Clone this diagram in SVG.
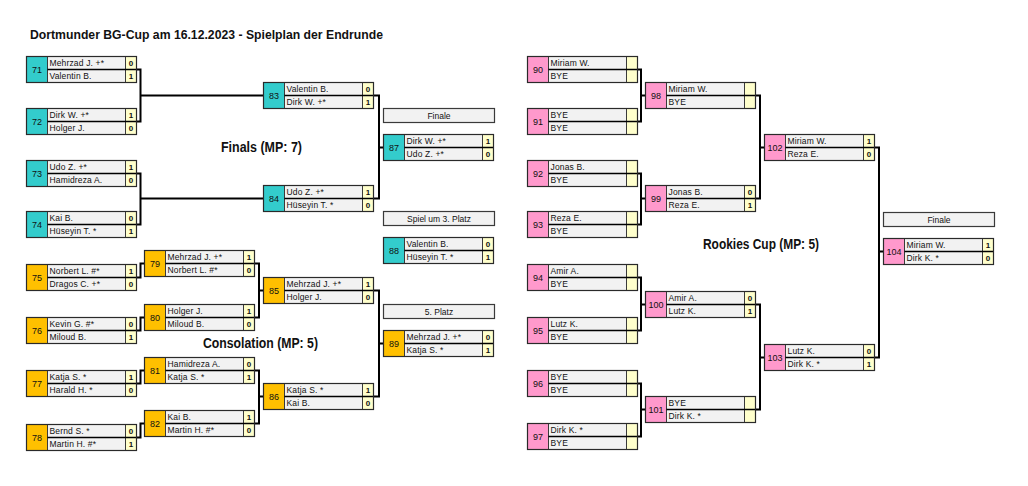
<svg xmlns="http://www.w3.org/2000/svg" xmlns:xlink="http://www.w3.org/1999/xlink" width="1028" height="486" viewBox="0 0 1028 486">
<style>
text{font-family:"Liberation Sans",Arial,sans-serif;fill:#111}
.no{font-size:9px;text-anchor:middle}
.nm{font-size:8.5px;letter-spacing:0.15px}
.sc{font-size:8px;font-weight:bold;text-anchor:middle}
.lb{font-size:8.5px;text-anchor:middle}
.ttl{font-size:13px;font-weight:bold}
.sec{font-size:14px;font-weight:bold}
.conn path{fill:none;stroke:#000;stroke-width:2}
.teal{fill:#33cccc}
.gold{fill:#ffc000}
.pink{fill:#ff99cc}
</style>
<defs>
<g id="frame">
<rect width="21" height="26" stroke="#3a3a3a" stroke-width="1"/>
<rect x="21" width="78" height="26" fill="#f2f2f2" stroke="#3a3a3a" stroke-width="1"/>
<rect x="99" width="11" height="26" fill="#ffffcc" stroke="#3a3a3a" stroke-width="1"/>
<line x1="21" y1="13" x2="110" y2="13" stroke="#000" stroke-width="1.5"/>
<rect width="110" height="26" fill="none" stroke="#2a2a2a" stroke-width="1.2"/>
</g>
<g id="label">
<rect width="111" height="14" fill="#f2f2f2" stroke="#3a3a3a" stroke-width="1.2"/>
</g>
</defs>
<rect width="1028" height="486" fill="#fff"/>
<text class="ttl" x="30" y="39" textLength="353" lengthAdjust="spacingAndGlyphs">Dortmunder BG-Cup am 16.12.2023 - Spielplan der Endrunde</text>
<text class="sec" x="221" y="151.5" textLength="81" lengthAdjust="spacingAndGlyphs">Finals (MP: 7)</text>
<text class="sec" x="203" y="348" textLength="115" lengthAdjust="spacingAndGlyphs">Consolation (MP: 5)</text>
<text class="sec" x="703" y="248.5" textLength="116" lengthAdjust="spacingAndGlyphs">Rookies Cup (MP: 5)</text>

<g class="conn">
<path d="M136.5,69.5 H140.5 V121.5 H136.5 M140.5,95.5 H263.5"/>
<path d="M136.5,173.5 H140.5 V224.5 H136.5 M140.5,198.5 H263.5"/>
<path d="M373.5,95.5 H379 V198.5 H373.5 M379,147.5 H383.5"/>
<path d="M136.5,277.5 H140.5 V263.5 H144.5"/>
<path d="M136.5,330.5 H140.5 V317.5 H144.5"/>
<path d="M136.5,383.5 H140.5 V370.5 H144.5"/>
<path d="M136.5,437.5 H140.5 V423.5 H144.5"/>
<path d="M254.5,263.5 H259 V317.5 H254.5 M259,290.5 H263.5"/>
<path d="M254.5,370.5 H259 V423.5 H254.5 M259,396.5 H263.5"/>
<path d="M373.5,290.5 H379 V396.5 H373.5 M379,343.5 H383.5"/>
<path d="M637.5,69.5 H641 V121.5 H637.5 M641,95.5 H645.5"/>
<path d="M637.5,173.5 H641 V224.5 H637.5 M641,198.5 H645.5"/>
<path d="M637.5,277.5 H641 V330.5 H637.5 M641,304.5 H645.5"/>
<path d="M637.5,383.5 H641 V436.5 H637.5 M641,409.5 H645.5"/>
<path d="M755.5,95.5 H760 V198.5 H755.5 M760,147.5 H764.5"/>
<path d="M755.5,304.5 H760 V409.5 H755.5 M760,357.5 H764.5"/>
<path d="M874.5,147.5 H879 V357.5 H874.5 M879,251.5 H883.5"/>
</g>

<g id="lbl-finale1" transform="translate(383.5,108.5)"><use xlink:href="#label"/><text class="lb" x="55.5" y="10">Finale</text></g>
<g id="lbl-platz3" transform="translate(383.5,211.5)"><use xlink:href="#label"/><text class="lb" x="55.5" y="10">Spiel um 3. Platz</text></g>
<g id="lbl-platz5" transform="translate(383.5,304.5)"><use xlink:href="#label"/><text class="lb" x="55.5" y="10">5. Platz</text></g>
<g id="lbl-finale2" transform="translate(883.5,212.5)"><use xlink:href="#label"/><text class="lb" x="55.5" y="10">Finale</text></g>

<g id="m71" transform="translate(26.5,56.5)"><use xlink:href="#frame" class="teal"/><text class="no" x="10.5" y="16.5">71</text><text class="nm" x="23" y="9.5">Mehrzad J. +*</text><text class="nm" x="23" y="22.5">Valentin B.</text><text class="sc" x="104.5" y="9.5">0</text><text class="sc" x="104.5" y="22.5">1</text></g>
<g id="m72" transform="translate(26.5,108.5)"><use xlink:href="#frame" class="teal"/><text class="no" x="10.5" y="16.5">72</text><text class="nm" x="23" y="9.5">Dirk W. +*</text><text class="nm" x="23" y="22.5">Holger J.</text><text class="sc" x="104.5" y="9.5">1</text><text class="sc" x="104.5" y="22.5">0</text></g>
<g id="m73" transform="translate(26.5,160.5)"><use xlink:href="#frame" class="teal"/><text class="no" x="10.5" y="16.5">73</text><text class="nm" x="23" y="9.5">Udo Z. +*</text><text class="nm" x="23" y="22.5">Hamidreza A.</text><text class="sc" x="104.5" y="9.5">1</text><text class="sc" x="104.5" y="22.5">0</text></g>
<g id="m74" transform="translate(26.5,211.5)"><use xlink:href="#frame" class="teal"/><text class="no" x="10.5" y="16.5">74</text><text class="nm" x="23" y="9.5">Kai B.</text><text class="nm" x="23" y="22.5">Hüseyin T. *</text><text class="sc" x="104.5" y="9.5">0</text><text class="sc" x="104.5" y="22.5">1</text></g>
<g id="m83" transform="translate(263.5,82.5)"><use xlink:href="#frame" class="teal"/><text class="no" x="10.5" y="16.5">83</text><text class="nm" x="23" y="9.5">Valentin B.</text><text class="nm" x="23" y="22.5">Dirk W. +*</text><text class="sc" x="104.5" y="9.5">0</text><text class="sc" x="104.5" y="22.5">1</text></g>
<g id="m84" transform="translate(263.5,185.5)"><use xlink:href="#frame" class="teal"/><text class="no" x="10.5" y="16.5">84</text><text class="nm" x="23" y="9.5">Udo Z. +*</text><text class="nm" x="23" y="22.5">Hüseyin T. *</text><text class="sc" x="104.5" y="9.5">1</text><text class="sc" x="104.5" y="22.5">0</text></g>
<g id="m87" transform="translate(383.5,134.5)"><use xlink:href="#frame" class="teal"/><text class="no" x="10.5" y="16.5">87</text><text class="nm" x="23" y="9.5">Dirk W. +*</text><text class="nm" x="23" y="22.5">Udo Z. +*</text><text class="sc" x="104.5" y="9.5">1</text><text class="sc" x="104.5" y="22.5">0</text></g>
<g id="m88" transform="translate(383.5,237.5)"><use xlink:href="#frame" class="teal"/><text class="no" x="10.5" y="16.5">88</text><text class="nm" x="23" y="9.5">Valentin B.</text><text class="nm" x="23" y="22.5">Hüseyin T. *</text><text class="sc" x="104.5" y="9.5">0</text><text class="sc" x="104.5" y="22.5">1</text></g>

<g id="m75" transform="translate(26.5,264.5)"><use xlink:href="#frame" class="gold"/><text class="no" x="10.5" y="16.5">75</text><text class="nm" x="23" y="9.5">Norbert L. #*</text><text class="nm" x="23" y="22.5">Dragos C. +*</text><text class="sc" x="104.5" y="9.5">1</text><text class="sc" x="104.5" y="22.5">0</text></g>
<g id="m76" transform="translate(26.5,317.5)"><use xlink:href="#frame" class="gold"/><text class="no" x="10.5" y="16.5">76</text><text class="nm" x="23" y="9.5">Kevin G. #*</text><text class="nm" x="23" y="22.5">Miloud B.</text><text class="sc" x="104.5" y="9.5">0</text><text class="sc" x="104.5" y="22.5">1</text></g>
<g id="m77" transform="translate(26.5,370.5)"><use xlink:href="#frame" class="gold"/><text class="no" x="10.5" y="16.5">77</text><text class="nm" x="23" y="9.5">Katja S. *</text><text class="nm" x="23" y="22.5">Harald H. *</text><text class="sc" x="104.5" y="9.5">1</text><text class="sc" x="104.5" y="22.5">0</text></g>
<g id="m78" transform="translate(26.5,424.5)"><use xlink:href="#frame" class="gold"/><text class="no" x="10.5" y="16.5">78</text><text class="nm" x="23" y="9.5">Bernd S. *</text><text class="nm" x="23" y="22.5">Martin H. #*</text><text class="sc" x="104.5" y="9.5">0</text><text class="sc" x="104.5" y="22.5">1</text></g>
<g id="m79" transform="translate(144.5,250.5)"><use xlink:href="#frame" class="gold"/><text class="no" x="10.5" y="16.5">79</text><text class="nm" x="23" y="9.5">Mehrzad J. +*</text><text class="nm" x="23" y="22.5">Norbert L. #*</text><text class="sc" x="104.5" y="9.5">1</text><text class="sc" x="104.5" y="22.5">0</text></g>
<g id="m80" transform="translate(144.5,304.5)"><use xlink:href="#frame" class="gold"/><text class="no" x="10.5" y="16.5">80</text><text class="nm" x="23" y="9.5">Holger J.</text><text class="nm" x="23" y="22.5">Miloud B.</text><text class="sc" x="104.5" y="9.5">1</text><text class="sc" x="104.5" y="22.5">0</text></g>
<g id="m81" transform="translate(144.5,357.5)"><use xlink:href="#frame" class="gold"/><text class="no" x="10.5" y="16.5">81</text><text class="nm" x="23" y="9.5">Hamidreza A.</text><text class="nm" x="23" y="22.5">Katja S. *</text><text class="sc" x="104.5" y="9.5">0</text><text class="sc" x="104.5" y="22.5">1</text></g>
<g id="m82" transform="translate(144.5,410.5)"><use xlink:href="#frame" class="gold"/><text class="no" x="10.5" y="16.5">82</text><text class="nm" x="23" y="9.5">Kai B.</text><text class="nm" x="23" y="22.5">Martin H. #*</text><text class="sc" x="104.5" y="9.5">1</text><text class="sc" x="104.5" y="22.5">0</text></g>
<g id="m85" transform="translate(263.5,277.5)"><use xlink:href="#frame" class="gold"/><text class="no" x="10.5" y="16.5">85</text><text class="nm" x="23" y="9.5">Mehrzad J. +*</text><text class="nm" x="23" y="22.5">Holger J.</text><text class="sc" x="104.5" y="9.5">1</text><text class="sc" x="104.5" y="22.5">0</text></g>
<g id="m86" transform="translate(263.5,383.5)"><use xlink:href="#frame" class="gold"/><text class="no" x="10.5" y="16.5">86</text><text class="nm" x="23" y="9.5">Katja S. *</text><text class="nm" x="23" y="22.5">Kai B.</text><text class="sc" x="104.5" y="9.5">1</text><text class="sc" x="104.5" y="22.5">0</text></g>
<g id="m89" transform="translate(383.5,330.5)"><use xlink:href="#frame" class="gold"/><text class="no" x="10.5" y="16.5">89</text><text class="nm" x="23" y="9.5">Mehrzad J. +*</text><text class="nm" x="23" y="22.5">Katja S. *</text><text class="sc" x="104.5" y="9.5">0</text><text class="sc" x="104.5" y="22.5">1</text></g>

<g id="m90" transform="translate(527.5,56.5)"><use xlink:href="#frame" class="pink"/><text class="no" x="10.5" y="16.5">90</text><text class="nm" x="23" y="9.5">Miriam W.</text><text class="nm" x="23" y="22.5">BYE</text></g>
<g id="m91" transform="translate(527.5,108.5)"><use xlink:href="#frame" class="pink"/><text class="no" x="10.5" y="16.5">91</text><text class="nm" x="23" y="9.5">BYE</text><text class="nm" x="23" y="22.5">BYE</text></g>
<g id="m92" transform="translate(527.5,160.5)"><use xlink:href="#frame" class="pink"/><text class="no" x="10.5" y="16.5">92</text><text class="nm" x="23" y="9.5">Jonas B.</text><text class="nm" x="23" y="22.5">BYE</text></g>
<g id="m93" transform="translate(527.5,211.5)"><use xlink:href="#frame" class="pink"/><text class="no" x="10.5" y="16.5">93</text><text class="nm" x="23" y="9.5">Reza E.</text><text class="nm" x="23" y="22.5">BYE</text></g>
<g id="m94" transform="translate(527.5,264.5)"><use xlink:href="#frame" class="pink"/><text class="no" x="10.5" y="16.5">94</text><text class="nm" x="23" y="9.5">Amir A.</text><text class="nm" x="23" y="22.5">BYE</text></g>
<g id="m95" transform="translate(527.5,317.5)"><use xlink:href="#frame" class="pink"/><text class="no" x="10.5" y="16.5">95</text><text class="nm" x="23" y="9.5">Lutz K.</text><text class="nm" x="23" y="22.5">BYE</text></g>
<g id="m96" transform="translate(527.5,370.5)"><use xlink:href="#frame" class="pink"/><text class="no" x="10.5" y="16.5">96</text><text class="nm" x="23" y="9.5">BYE</text><text class="nm" x="23" y="22.5">BYE</text></g>
<g id="m97" transform="translate(527.5,423.5)"><use xlink:href="#frame" class="pink"/><text class="no" x="10.5" y="16.5">97</text><text class="nm" x="23" y="9.5">Dirk K. *</text><text class="nm" x="23" y="22.5">BYE</text></g>
<g id="m98" transform="translate(645.5,82.5)"><use xlink:href="#frame" class="pink"/><text class="no" x="10.5" y="16.5">98</text><text class="nm" x="23" y="9.5">Miriam W.</text><text class="nm" x="23" y="22.5">BYE</text></g>
<g id="m99" transform="translate(645.5,185.5)"><use xlink:href="#frame" class="pink"/><text class="no" x="10.5" y="16.5">99</text><text class="nm" x="23" y="9.5">Jonas B.</text><text class="nm" x="23" y="22.5">Reza E.</text><text class="sc" x="104.5" y="9.5">0</text><text class="sc" x="104.5" y="22.5">1</text></g>
<g id="m100" transform="translate(645.5,291.5)"><use xlink:href="#frame" class="pink"/><text class="no" x="10.5" y="16.5">100</text><text class="nm" x="23" y="9.5">Amir A.</text><text class="nm" x="23" y="22.5">Lutz K.</text><text class="sc" x="104.5" y="9.5">0</text><text class="sc" x="104.5" y="22.5">1</text></g>
<g id="m101" transform="translate(645.5,396.5)"><use xlink:href="#frame" class="pink"/><text class="no" x="10.5" y="16.5">101</text><text class="nm" x="23" y="9.5">BYE</text><text class="nm" x="23" y="22.5">Dirk K. *</text></g>
<g id="m102" transform="translate(764.5,134.5)"><use xlink:href="#frame" class="pink"/><text class="no" x="10.5" y="16.5">102</text><text class="nm" x="23" y="9.5">Miriam W.</text><text class="nm" x="23" y="22.5">Reza E.</text><text class="sc" x="104.5" y="9.5">1</text><text class="sc" x="104.5" y="22.5">0</text></g>
<g id="m103" transform="translate(764.5,344.5)"><use xlink:href="#frame" class="pink"/><text class="no" x="10.5" y="16.5">103</text><text class="nm" x="23" y="9.5">Lutz K.</text><text class="nm" x="23" y="22.5">Dirk K. *</text><text class="sc" x="104.5" y="9.5">0</text><text class="sc" x="104.5" y="22.5">1</text></g>
<g id="m104" transform="translate(883.5,238.5)"><use xlink:href="#frame" class="pink"/><text class="no" x="10.5" y="16.5">104</text><text class="nm" x="23" y="9.5">Miriam W.</text><text class="nm" x="23" y="22.5">Dirk K. *</text><text class="sc" x="104.5" y="9.5">1</text><text class="sc" x="104.5" y="22.5">0</text></g>
</svg>
